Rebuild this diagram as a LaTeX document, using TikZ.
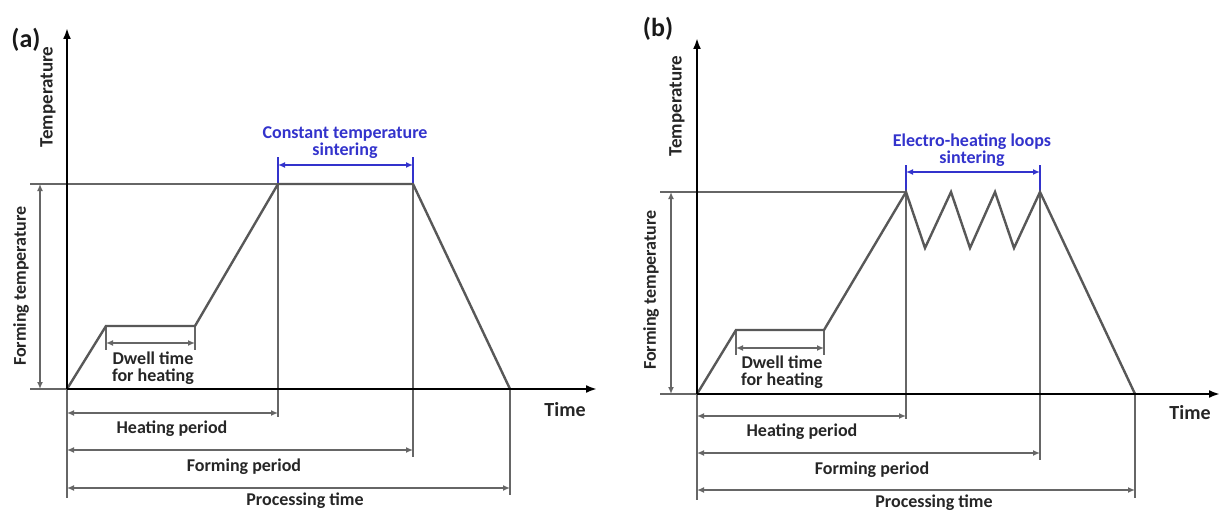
\documentclass[tikz,border=0pt]{standalone}
\usepackage{fontspec}
\setmainfont{Carlito}
\usetikzlibrary{arrows.meta}
\definecolor{curvegray}{HTML}{585858}
\definecolor{guidegray}{HTML}{666666}
\definecolor{loopblue}{HTML}{3333CC}
\definecolor{textgray}{HTML}{262626}
\tikzset{
  axisline/.style={line width=2.8pt, black, -{Latex[length=11pt,width=8pt]}},
  profile/.style={line width=2.4pt, curvegray, line join=miter},
  guide/.style={line width=1.5pt, guidegray},
  dimline/.style={line width=1.4pt, guidegray, {Latex[length=7pt,width=6pt]}-{Latex[length=7pt,width=6pt]}},
  bluetick/.style={line width=1.4pt, loopblue},
  bluedim/.style={line width=1.4pt, loopblue, {Latex[length=7pt,width=6pt]}-{Latex[length=7pt,width=6pt]}},
  lbl/.style={font=\fontsize{18}{17}\selectfont\bfseries, text=textgray, inner sep=0pt, align=center},
  axlbl/.style={font=\fontsize{19}{20}\selectfont\bfseries, text=textgray, inner sep=0pt},
  timelbl/.style={font=\fontsize{20}{21}\selectfont\bfseries, text=textgray, inner sep=0pt},
  bluelbl/.style={font=\fontsize{18}{17}\selectfont\bfseries, text=loopblue, inner sep=0pt, align=center},
  panellbl/.style={font=\fontsize{26}{26}\selectfont\bfseries, text=black!90, inner sep=0pt},
}
\begin{document}
\begin{tikzpicture}[x=1pt,y=-1pt]
\useasboundingbox (0,0) rectangle (1222,511);

% ---------------- panel (a): constant temperature sintering ----------------
\coordinate (aO)  at (67,389);
\coordinate (aTop) at (67,28);
\coordinate (aRight) at (597,389);
\coordinate (aP1) at (106,326);
\coordinate (aP2) at (195,326);
\coordinate (aP3) at (278,184);
\coordinate (aP4) at (413,184);
\coordinate (aP5) at (510,389);
\coordinate (aRefL) at (30,184);
\coordinate (aBaseL) at (30,389);
\coordinate (aFtTop) at (40,184);
\coordinate (aFtBot) at (40,389);
\coordinate (aD1) at (106,350);
\coordinate (aD2) at (195,350);
\coordinate (aDl) at (106,343);
\coordinate (aDr) at (195,343);
\coordinate (aV0) at (67,498);
\coordinate (aV3) at (278,417);
\coordinate (aV4) at (413,457);
\coordinate (aV5) at (510,495);
\coordinate (aHl) at (67,413);
\coordinate (aHr) at (278,413);
\coordinate (aFl) at (67,450);
\coordinate (aFr) at (413,450);
\coordinate (aPl) at (67,488);
\coordinate (aPr) at (510,488);
\coordinate (aB1) at (278,157);
\coordinate (aB2) at (413,157);
\coordinate (aBl) at (278,165);
\coordinate (aBr) at (413,165);

\draw[guide] (aRefL) -- (aP3);
\draw[guide] (aBaseL) -- (aO);
\draw[dimline] (aFtTop) -- (aFtBot);
\draw[guide] (aP1) -- (aD1);
\draw[guide] (aP2) -- (aD2);
\draw[dimline] (aDl) -- (aDr);
\draw[guide] (aP3) -- (aV3);
\draw[guide] (aP4) -- (aV4);
\draw[guide] (aP5) -- (aV5);
\draw[guide] (aO) -- (aV0);
\draw[dimline] (aHl) -- (aHr);
\draw[dimline] (aFl) -- (aFr);
\draw[dimline] (aPl) -- (aPr);
\draw[bluetick] (aB1) -- (aP3);
\draw[bluetick] (aB2) -- (aP4);
\draw[bluedim] (aBl) -- (aBr);
\draw[profile] (aO) -- (aP1) -- (aP2) -- (aP3) -- (aP4) -- (aP5);
\draw[axisline] (aO) -- (aTop);
\draw[axisline] (aO) -- (aRight);

\node[panellbl] (aTag) at (26,40) {(a)};
\node[axlbl, rotate=90] (aTemp) at (48,97) {Temperature};
\node[lbl, rotate=90] (aForm) at (21,286) {Forming temperature};
\node[timelbl] (aTime) at (565,410) {Time};
\node[lbl] (aDwell) at (153,368) {Dwell time\\for heating};
\node[lbl] (aHeat) at (172,429) {Heating period};
\node[lbl] (aFormP) at (244,467) {Forming period};
\node[lbl] (aProc) at (305,501) {Processing time};
\node[bluelbl] (aConst) at (345,143) {Constant temperature\\sintering};

% ---------------- panel (b): electro-heating loops sintering ----------------
\coordinate (bO)  at (697,394);
\coordinate (bTop) at (697,38);
\coordinate (bRight) at (1220,394);
\coordinate (bP1) at (736,330);
\coordinate (bP2) at (824,330);
\coordinate (bP3) at (906,192);
\coordinate (bV1) at (925,248);
\coordinate (bK1) at (951,192);
\coordinate (bV2) at (970,248);
\coordinate (bK2) at (995,192);
\coordinate (bV3) at (1014,248);
\coordinate (bP4) at (1040,192);
\coordinate (bP5) at (1135,394);
\coordinate (bRefL) at (660,192);
\coordinate (bBaseL) at (660,394);
\coordinate (bFtTop) at (671,192);
\coordinate (bFtBot) at (671,394);
\coordinate (bD1) at (736,355);
\coordinate (bD2) at (824,355);
\coordinate (bDl) at (736,348);
\coordinate (bDr) at (824,348);
\coordinate (bW0) at (697,500);
\coordinate (bW3) at (906,419);
\coordinate (bW4) at (1040,460);
\coordinate (bW5) at (1135,498);
\coordinate (bHl) at (697,416);
\coordinate (bHr) at (906,416);
\coordinate (bFl) at (697,453);
\coordinate (bFr) at (1040,453);
\coordinate (bPl) at (697,490);
\coordinate (bPr) at (1135,490);
\coordinate (bB1) at (906,165);
\coordinate (bB2) at (1040,165);
\coordinate (bBl) at (906,172);
\coordinate (bBr) at (1040,172);

\draw[guide] (bRefL) -- (bP3);
\draw[guide] (bBaseL) -- (bO);
\draw[dimline] (bFtTop) -- (bFtBot);
\draw[guide] (bP1) -- (bD1);
\draw[guide] (bP2) -- (bD2);
\draw[dimline] (bDl) -- (bDr);
\draw[guide] (bP3) -- (bW3);
\draw[guide] (bP4) -- (bW4);
\draw[guide] (bP5) -- (bW5);
\draw[guide] (bO) -- (bW0);
\draw[dimline] (bHl) -- (bHr);
\draw[dimline] (bFl) -- (bFr);
\draw[dimline] (bPl) -- (bPr);
\draw[bluetick] (bB1) -- (bP3);
\draw[bluetick] (bB2) -- (bP4);
\draw[bluedim] (bBl) -- (bBr);
\draw[profile] (bO) -- (bP1) -- (bP2) -- (bP3) -- (bV1) -- (bK1) -- (bV2) -- (bK2) -- (bV3) -- (bP4) -- (bP5);
\draw[axisline] (bO) -- (bTop);
\draw[axisline] (bO) -- (bRight);

\node[panellbl] (bTag) at (658,29) {(b)};
\node[axlbl, rotate=90] (bTemp) at (677,106) {Temperature};
\node[lbl, rotate=90] (bForm) at (651,290) {Forming temperature};
\node[timelbl] (bTime) at (1190,413) {Time};
\node[lbl] (bDwell) at (782,372) {Dwell time\\for heating};
\node[lbl] (bHeat) at (802,432) {Heating period};
\node[lbl] (bFormP) at (872,470) {Forming period};
\node[lbl] (bProc) at (934,503) {Processing time};
\node[bluelbl] (bLoops) at (972,150) {Electro-heating loops\\sintering};
\end{tikzpicture}
\end{document}
